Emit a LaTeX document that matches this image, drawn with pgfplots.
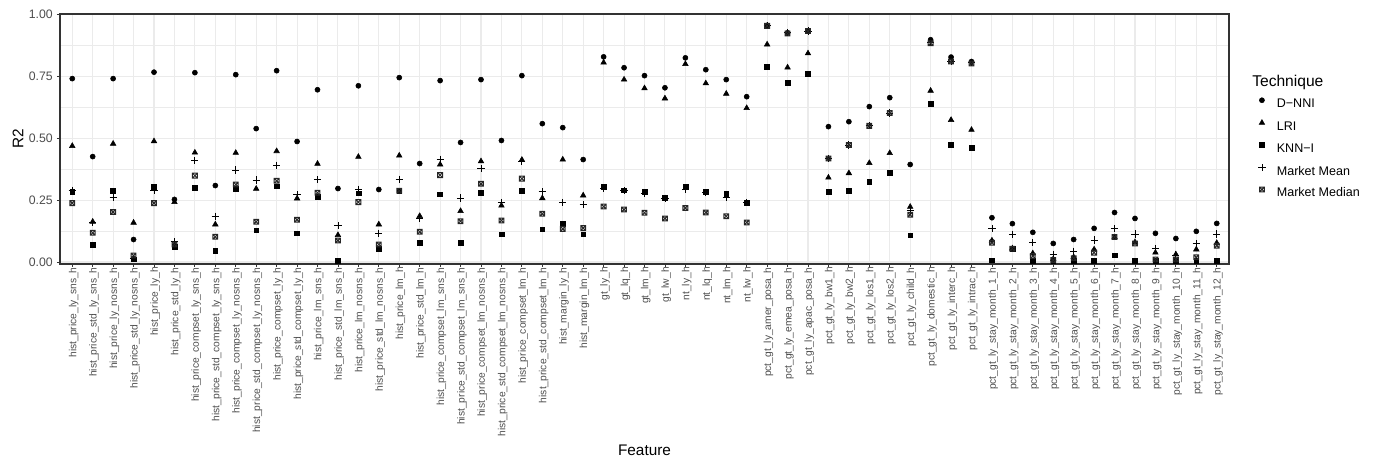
\documentclass[border=0pt]{standalone}
\usepackage{fontspec}
\setmainfont{Liberation Sans}
\usepackage{pgfplots}
\usepackage{pgfplotstable}
\pgfplotsset{compat=1.18}
\definecolor{g20}{HTML}{333333}
\definecolor{g30}{HTML}{4D4D4D}
\definecolor{g92}{HTML}{EBEBEB}
\pgfdeclareplotmark{boxx}{%
  \pgfpathrectangle{\pgfpoint{-\pgfplotmarksize}{-\pgfplotmarksize}}{\pgfpoint{2\pgfplotmarksize}{2\pgfplotmarksize}}%
  \pgfpathmoveto{\pgfpoint{-\pgfplotmarksize}{-\pgfplotmarksize}}\pgfpathlineto{\pgfpoint{\pgfplotmarksize}{\pgfplotmarksize}}%
  \pgfpathmoveto{\pgfpoint{-\pgfplotmarksize}{\pgfplotmarksize}}\pgfpathlineto{\pgfpoint{\pgfplotmarksize}{-\pgfplotmarksize}}%
  \pgfusepathqstroke}
\pgfplotstableread{
x D L K Mn Md
0 0.741 0.469 0.285 0.290 0.238
1 0.426 0.163 0.071 0.160 0.118
2 0.741 0.478 0.289 0.260 0.202
3 0.091 0.159 0.011 0.015 0.026
4 0.767 0.488 0.305 0.288 0.238
5 0.253 0.242 0.062 0.082 0.071
6 0.765 0.442 0.301 0.409 0.349
7 0.309 0.152 0.044 0.185 0.102
8 0.757 0.441 0.297 0.372 0.313
9 0.539 0.296 0.128 0.331 0.163
10 0.773 0.448 0.306 0.391 0.328
11 0.487 0.257 0.116 0.272 0.171
12 0.696 0.397 0.263 0.333 0.280
13 0.297 0.109 0.004 0.147 0.087
14 0.712 0.425 0.278 0.294 0.242
15 0.293 0.152 0.052 0.116 0.071
16 0.745 0.430 0.288 0.335 0.288
17 0.398 0.186 0.079 0.175 0.122
18 0.733 0.394 0.274 0.415 0.351
19 0.483 0.206 0.079 0.259 0.165
20 0.737 0.407 0.281 0.378 0.316
21 0.491 0.228 0.112 0.241 0.168
22 0.753 0.413 0.289 0.406 0.337
23 0.559 0.258 0.132 0.284 0.195
24 0.543 0.414 0.156 0.241 0.134
25 0.414 0.269 0.112 0.233 0.137
26 0.829 0.806 0.305 0.297 0.224
27 0.785 0.737 0.290 0.288 0.212
28 0.753 0.702 0.285 0.277 0.199
29 0.704 0.661 0.261 0.258 0.176
30 0.825 0.800 0.305 0.293 0.218
31 0.777 0.722 0.285 0.280 0.200
32 0.737 0.680 0.276 0.263 0.185
33 0.668 0.622 0.241 0.241 0.160
34 0.956 0.879 0.789 0.956 0.954
35 0.926 0.786 0.724 0.926 0.923
36 0.933 0.843 0.761 0.933 0.933
37 0.547 0.341 0.285 0.418 0.418
38 0.567 0.359 0.289 0.473 0.473
39 0.628 0.400 0.325 0.550 0.550
40 0.664 0.440 0.362 0.602 0.602
41 0.394 0.223 0.108 0.207 0.191
42 0.898 0.692 0.640 0.888 0.884
43 0.828 0.574 0.474 0.810 0.810
44 0.810 0.534 0.462 0.806 0.802
45 0.179 0.087 0.007 0.136 0.078
46 0.155 0.055 0.054 0.112 0.054
47 0.120 0.035 0.005 0.079 0.024
48 0.075 0.012 0.004 0.032 0.008
49 0.091 0.020 0.004 0.044 0.015
50 0.136 0.051 0.004 0.089 0.038
51 0.200 0.100 0.027 0.136 0.101
52 0.176 0.080 0.004 0.113 0.075
53 0.116 0.038 0.004 0.055 0.010
54 0.095 0.031 0.004 0.028 0.010
55 0.124 0.051 0.004 0.075 0.019
56 0.156 0.077 0.004 0.113 0.066
}\data
\begin{document}
\begin{tikzpicture}
\begin{axis}[
  at={(0,0)}, anchor=south west, scale only axis, clip=false,
  width=876.75pt, height=187.5pt,
  xmin=-0.6, xmax=56.6, ymin=-0.008, ymax=1.002,
  xtick={0,...,56},
  xticklabels={hist\_price\_ly\_sns\_h,hist\_price\_std\_ly\_sns\_h,hist\_price\_ly\_nosns\_h,hist\_price\_std\_ly\_nosns\_h,hist\_price\_ly\_h,hist\_price\_std\_ly\_h,hist\_price\_compset\_ly\_sns\_h,hist\_price\_std\_compset\_ly\_sns\_h,hist\_price\_compset\_ly\_nosns\_h,hist\_price\_std\_compset\_ly\_nosns\_h,hist\_price\_compset\_ly\_h,hist\_price\_std\_compset\_ly\_h,hist\_price\_lm\_sns\_h,hist\_price\_std\_lm\_sns\_h,hist\_price\_lm\_nosns\_h,hist\_price\_std\_lm\_nosns\_h,hist\_price\_lm\_h,hist\_price\_std\_lm\_h,hist\_price\_compset\_lm\_sns\_h,hist\_price\_std\_compset\_lm\_sns\_h,hist\_price\_compset\_lm\_nosns\_h,hist\_price\_std\_compset\_lm\_nosns\_h,hist\_price\_compset\_lm\_h,hist\_price\_std\_compset\_lm\_h,hist\_margin\_ly\_h,hist\_margin\_lm\_h,gt\_ly\_h,gt\_lq\_h,gt\_lm\_h,gt\_lw\_h,nt\_ly\_h,nt\_lq\_h,nt\_lm\_h,nt\_lw\_h,pct\_gt\_ly\_amer\_posa\_h,pct\_gt\_ly\_emea\_posa\_h,pct\_gt\_ly\_apac\_posa\_h,pct\_gt\_ly\_bw1\_h,pct\_gt\_ly\_bw2\_h,pct\_gt\_ly\_los1\_h,pct\_gt\_ly\_los2\_h,pct\_gt\_ly\_child\_h,pct\_gt\_ly\_domestic\_h,pct\_gt\_ly\_interc\_h,pct\_gt\_ly\_intrac\_h,pct\_gt\_ly\_stay\_month\_1\_h,pct\_gt\_ly\_stay\_month\_2\_h,pct\_gt\_ly\_stay\_month\_3\_h,pct\_gt\_ly\_stay\_month\_4\_h,pct\_gt\_ly\_stay\_month\_5\_h,pct\_gt\_ly\_stay\_month\_6\_h,pct\_gt\_ly\_stay\_month\_7\_h,pct\_gt\_ly\_stay\_month\_8\_h,pct\_gt\_ly\_stay\_month\_9\_h,pct\_gt\_ly\_stay\_month\_10\_h,pct\_gt\_ly\_stay\_month\_11\_h,pct\_gt\_ly\_stay\_month\_12\_h},
  ytick={0,0.25,0.5,0.75,1},
  minor ytick={0.125,0.375,0.625,0.875},
  yticklabel style={/pgf/number format/fixed, /pgf/number format/fixed zerofill, /pgf/number format/precision=2},
  /pgf/number format/assume math mode=true,
  grid=both,
  major grid style={g92, line width=0.8pt},
  minor grid style={g92, line width=0.4pt},
  axis line style={g20, line width=0.8pt},
  tick style={g20, line width=0.6pt},
  tick align=outside, major tick length=2.25pt, minor tick length=0pt,
  xtick pos=bottom, ytick pos=left,
  xticklabel style={rotate=90, anchor=east, inner sep=0pt, yshift=-1pt, font=\fontsize{7.7}{8}\selectfont, text=g30},
  yticklabel style={anchor=east, inner sep=0pt, xshift=-3pt, font=\fontsize{9.2}{10}\selectfont, text=g30},
  xlabel={Feature},
  xlabel style={at={(axis description cs:0.5,0)}, yshift=-139.5pt, anchor=center, font=\fontsize{11.5}{12}\selectfont},
  legend style={at={(rel axis cs:1,0.46)}, anchor=west, xshift=22pt, draw=none, fill=none, inner sep=0pt, outer sep=0pt,
    row sep=6.4pt, column sep=8.5pt,
    nodes={inner sep=0pt, outer sep=0pt, text height=7pt, text depth=2.5pt, font=\fontsize{9.4}{10}\selectfont}},
  legend cell align=left,
  legend image code/.code={\draw[mark repeat=2, mark phase=2] plot coordinates {(0pt,3.4pt)(4.25pt,3.4pt)(8.5pt,3.4pt)};},
]
\addplot[only marks, mark=*, mark size=1.9pt, black] table[x=x, y=D] {\data};
\addlegendentry{D−NNI}
\addplot[only marks, mark=triangle*, mark size=2.4pt, black] table[x=x, y=L] {\data};
\addlegendentry{LRI}
\addplot[only marks, mark=square*, mark size=1.8pt, black] table[x=x, y=K] {\data};
\addlegendentry{KNN−I}
\addplot[only marks, mark=+, mark size=2.7pt, black, line width=0.6pt] table[x=x, y=Mn] {\data};
\addlegendentry{Market Mean}
\addplot[only marks, mark=boxx, mark size=1.8pt, black!85, line width=0.75pt] table[x=x, y=Md] {\data};
\addlegendentry{Market Median}
\node[anchor=west, inner sep=0pt, font=\fontsize{11.7}{12}\selectfont] at (rel axis cs:1,0.728) [xshift=17.25pt] {Technique};
\node[rotate=90, anchor=center, inner sep=0pt, font=\fontsize{11.5}{12}\selectfont] at (rel axis cs:-0.0359,0.5) {R2};
\end{axis}
\pgfresetboundingbox
\useasboundingbox (-45pt,-148.5pt) rectangle (988.5pt,198pt);
\end{tikzpicture}
\end{document}
